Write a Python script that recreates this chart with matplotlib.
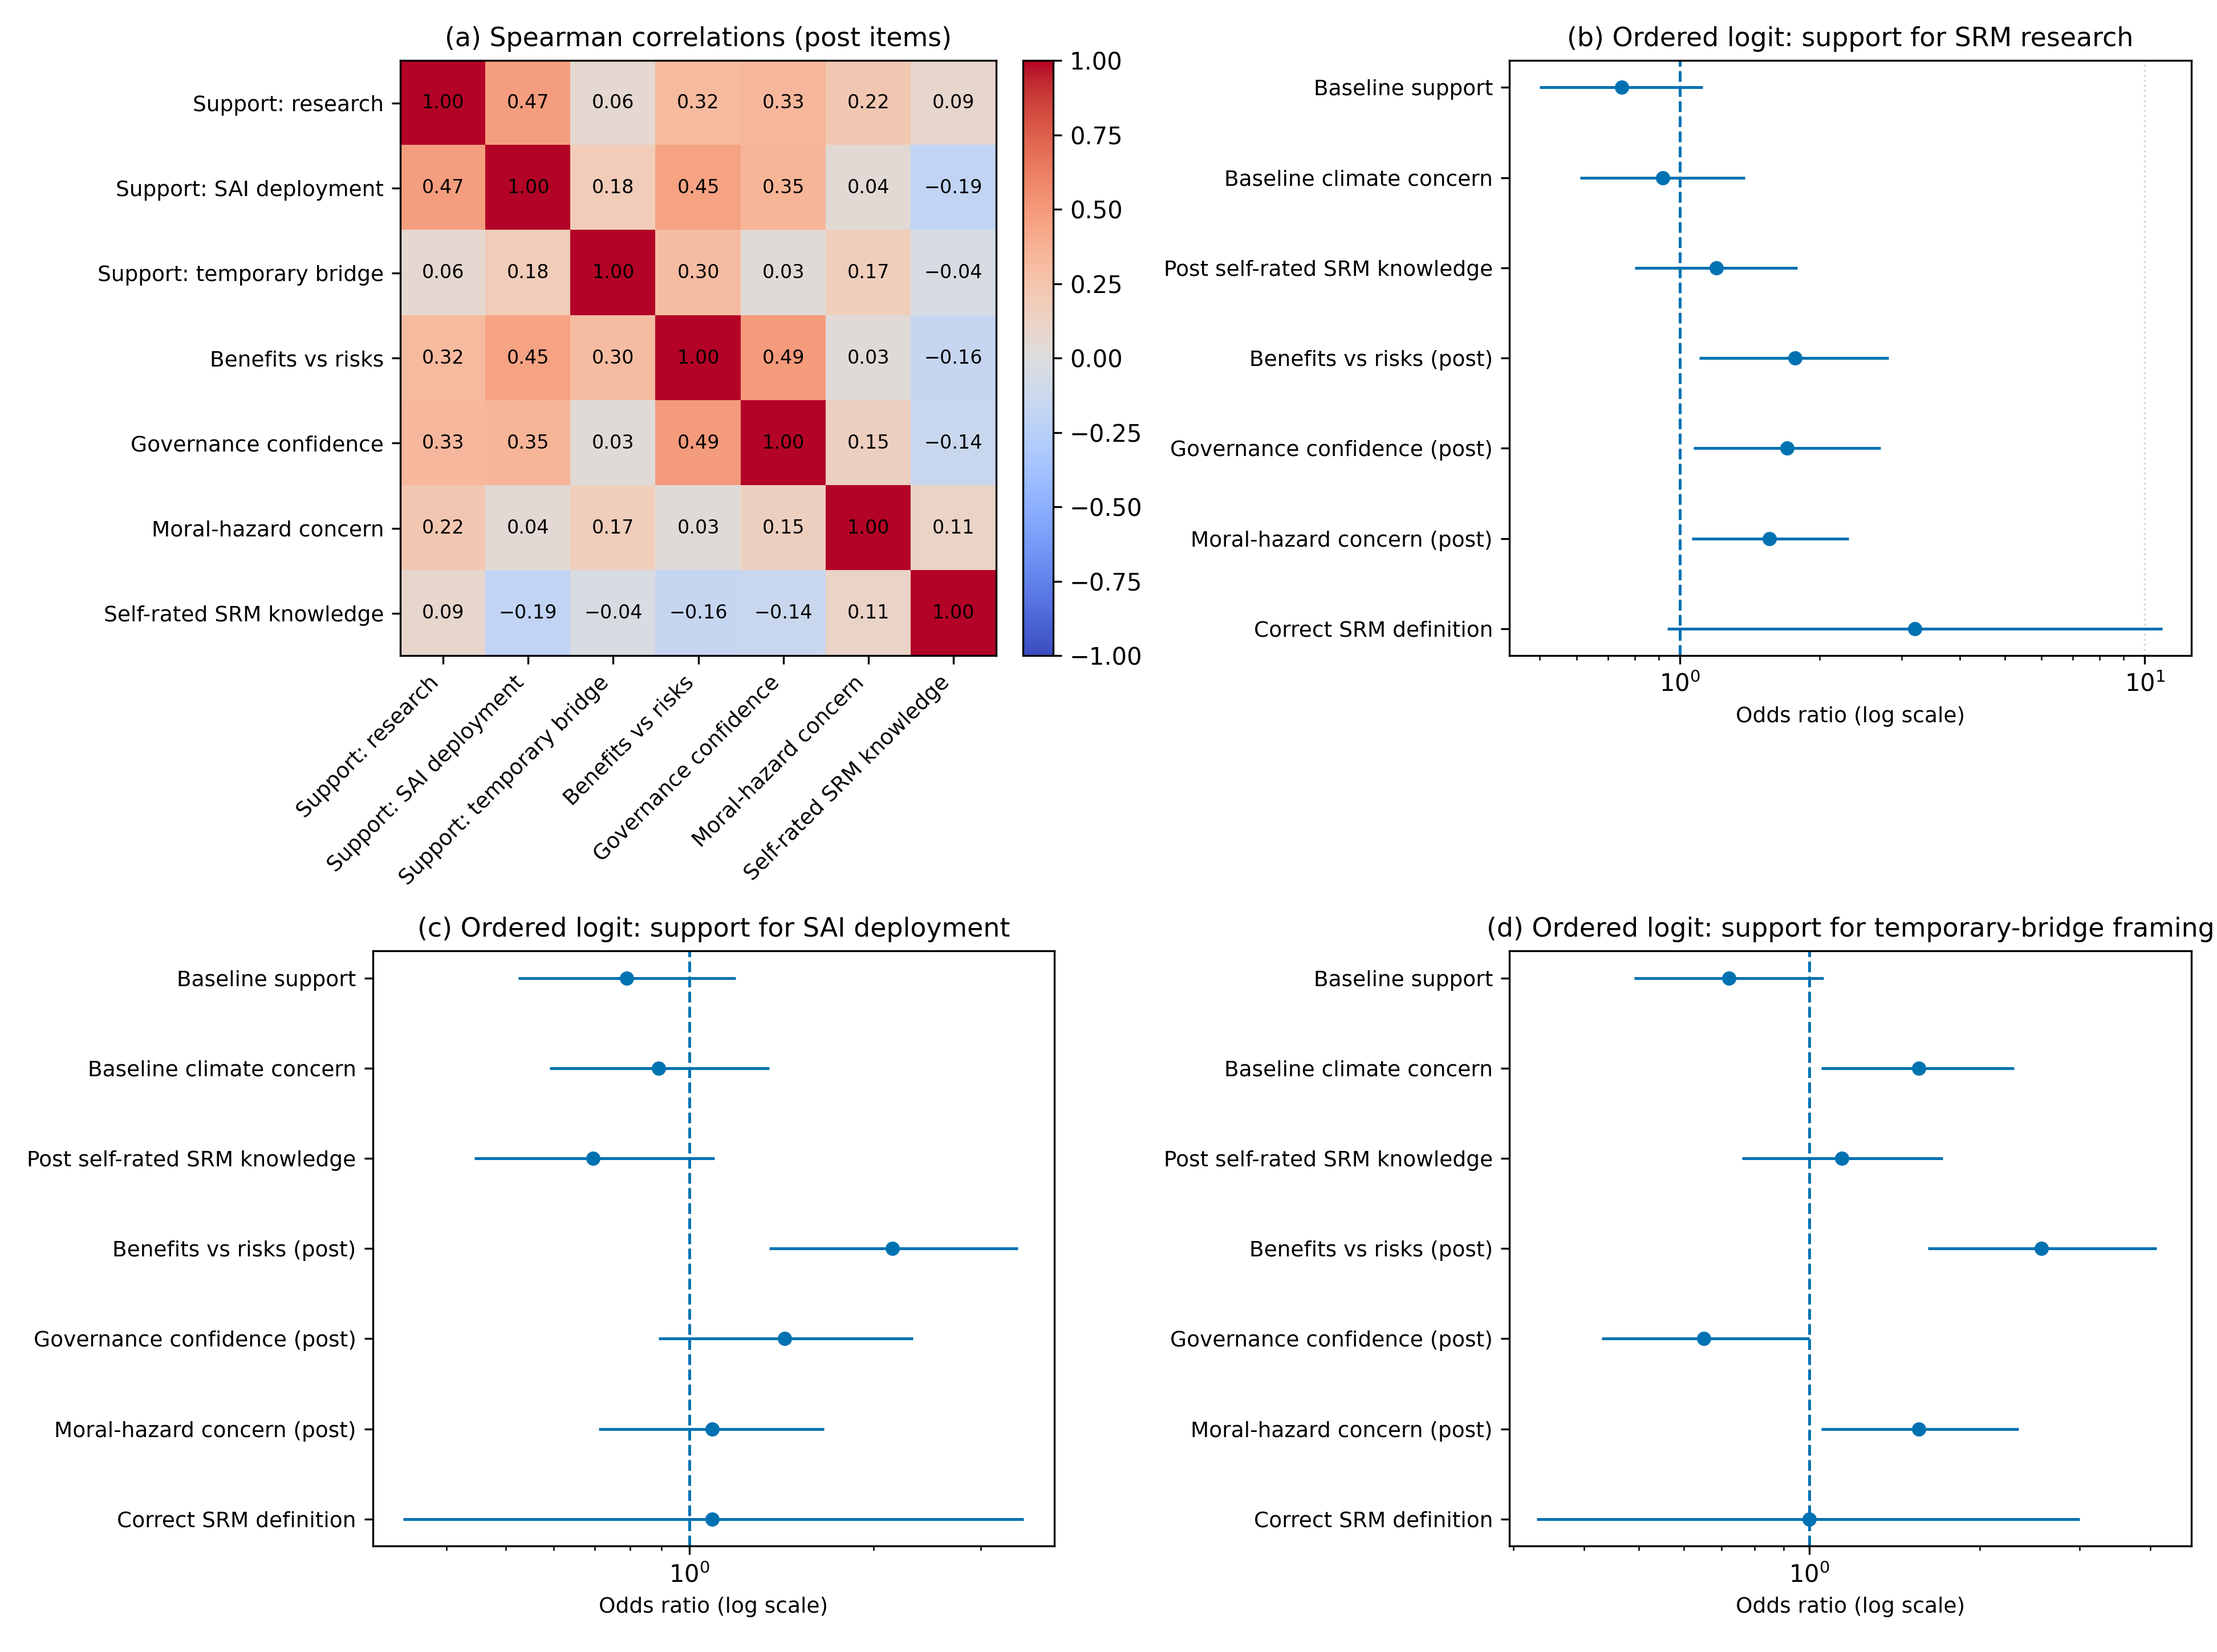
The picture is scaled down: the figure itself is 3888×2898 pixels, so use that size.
import numpy as np
import matplotlib.pyplot as plt

items = ["Support: research", "Support: SAI deployment", "Support: temporary bridge",
         "Benefits vs risks", "Governance confidence", "Moral-hazard concern",
         "Self-rated SRM knowledge"]
corr = np.array([
    [1.00, 0.47, 0.06, 0.32, 0.33, 0.22, 0.09],
    [0.47, 1.00, 0.18, 0.45, 0.35, 0.04, -0.19],
    [0.06, 0.18, 1.00, 0.30, 0.03, 0.17, -0.04],
    [0.32, 0.45, 0.30, 1.00, 0.49, 0.03, -0.16],
    [0.33, 0.35, 0.03, 0.49, 1.00, 0.15, -0.14],
    [0.22, 0.04, 0.17, 0.03, 0.15, 1.00, 0.11],
    [0.09, -0.19, -0.04, -0.16, -0.14, 0.11, 1.00],
])

predictors = ["Baseline support", "Baseline climate concern", "Post self-rated SRM knowledge",
              "Benefits vs risks (post)", "Governance confidence (post)",
              "Moral-hazard concern (post)", "Correct SRM definition"]

or_research = [0.75, 0.92, 1.20, 1.77, 1.70, 1.56, 3.2]
lo_research = [0.50, 0.61, 0.80, 1.10, 1.07, 1.06, 0.94]
hi_research = [1.12, 1.38, 1.79, 2.81, 2.70, 2.31, 10.9]

or_sai = [0.79, 0.89, 0.695, 2.15, 1.43, 1.09, 1.09]
lo_sai = [0.525, 0.59, 0.445, 1.35, 0.89, 0.71, 0.34]
hi_sai = [1.19, 1.35, 1.10, 3.45, 2.32, 1.66, 3.52]

or_bridge = [0.72, 1.56, 1.14, 2.57, 0.65, 1.56, 1.0]
lo_bridge = [0.49, 1.05, 0.76, 1.62, 0.43, 1.05, 0.33]
hi_bridge = [1.06, 2.30, 1.72, 4.11, 1.00, 2.34, 3.0]

fig, axes = plt.subplots(2, 2, figsize=(12.96, 9.66))

ax = axes[0, 0]
im = ax.imshow(corr, cmap="coolwarm", vmin=-1, vmax=1)
ax.set_xticks(range(len(items)))
ax.set_xticklabels(items, rotation=45, ha="right", fontsize=9)
ax.set_yticks(range(len(items)))
ax.set_yticklabels(items, fontsize=9)
for i in range(len(items)):
    for j in range(len(items)):
        ax.text(j, i, f"{corr[i, j]:.2f}".replace("-", "\u2212"), ha="center", va="center", fontsize=8)
ax.set_title("(a) Spearman correlations (post items)", fontsize=11)
fig.colorbar(im, ax=ax, fraction=0.046, pad=0.04)


def forest(ax, est, lo, hi, title, xlim):
    est = np.array(est)
    y = np.arange(len(predictors))
    ax.errorbar(est, y, xerr=[est - np.array(lo), np.array(hi) - est], fmt="o",
                color="#0072B2", ms=5, lw=1.2)
    ax.axvline(1, ls="--", color="#0072B2", lw=1.2)
    ax.set_xscale("log")
    ax.set_xlim(*xlim)
    ax.set_yticks(y)
    ax.set_yticklabels(predictors, fontsize=9)
    ax.invert_yaxis()
    ax.grid(axis="x", which="major", ls=":", alpha=0.5)
    ax.set_xlabel("Odds ratio (log scale)", fontsize=9)
    ax.set_title(title, fontsize=11)


forest(axes[0, 1], or_research, lo_research, hi_research,
       "(b) Ordered logit: support for SRM research", (0.43, 12.6))
forest(axes[1, 0], or_sai, lo_sai, hi_sai,
       "(c) Ordered logit: support for SAI deployment", (0.303, 3.96))
forest(axes[1, 1], or_bridge, lo_bridge, hi_bridge,
       "(d) Ordered logit: support for temporary-bridge framing", (0.295, 4.73))

plt.tight_layout()
plt.savefig("out.png", dpi=300)
